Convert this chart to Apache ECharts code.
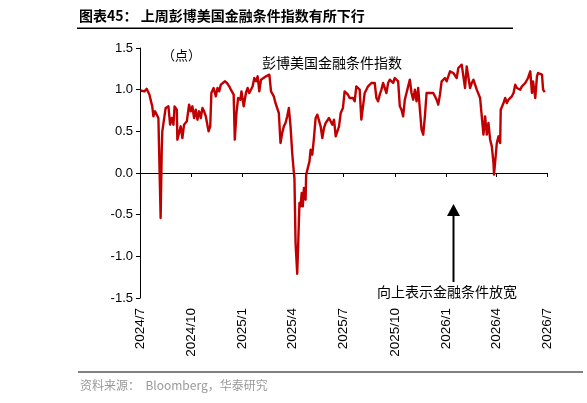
<!DOCTYPE html>
<html>
<head>
<meta charset="utf-8">
<script src="https://cdn.jsdelivr.net/npm/echarts@6/dist/echarts.min.js"></script>
<style>
  html, body { margin: 0; padding: 0; background: #fff; }
  #chart { width: 587px; height: 403px; }
</style>
</head>
<body>
<div id="chart"></div>
<script>
// 彭博美国金融条件指数（点）
const dates = [
  '2024-07-02','2024-07-09','2024-07-13','2024-07-18','2024-07-20','2024-07-23','2024-07-25','2024-07-28','2024-07-31','2024-08-03',
  '2024-08-04','2024-08-07','2024-08-09','2024-08-10','2024-08-13','2024-08-16','2024-08-21','2024-08-24','2024-08-27','2024-08-30',
  '2024-09-01','2024-09-05','2024-09-06','2024-09-09','2024-09-12','2024-09-15','2024-09-18','2024-09-23','2024-09-27','2024-09-30',
  '2024-10-03','2024-10-06','2024-10-09','2024-10-12','2024-10-15','2024-10-18','2024-10-21','2024-10-24','2024-10-27','2024-10-30',
  '2024-11-01','2024-11-04','2024-11-06','2024-11-10','2024-11-14','2024-11-17','2024-11-20','2024-11-23','2024-11-26','2024-11-30',
  '2024-12-04','2024-12-08','2024-12-11','2024-12-16','2024-12-18','2024-12-21','2024-12-24','2024-12-28','2024-12-30','2025-01-03',
  '2025-01-07','2025-01-10','2025-01-13','2025-01-16','2025-01-19','2025-01-22','2025-01-25','2025-01-28','2025-01-31','2025-02-03',
  '2025-02-06','2025-02-12','2025-02-18','2025-02-21','2025-02-26','2025-03-01','2025-03-07','2025-03-10','2025-03-13','2025-03-16',
  '2025-03-19','2025-03-22','2025-03-25','2025-03-28','2025-03-31','2025-04-03','2025-04-04','2025-04-06','2025-04-09','2025-04-11',
  '2025-04-13','2025-04-15','2025-04-17','2025-04-19','2025-04-21','2025-04-24','2025-04-25','2025-04-28','2025-05-01','2025-05-03',
  '2025-05-06','2025-05-09','2025-05-12','2025-05-15','2025-05-18','2025-05-21','2025-05-24','2025-05-27','2025-05-30','2025-06-02',
  '2025-06-05','2025-06-08','2025-06-11','2025-06-14','2025-06-17','2025-06-20','2025-06-23','2025-06-26','2025-06-30','2025-07-03',
  '2025-07-06','2025-07-09','2025-07-12','2025-07-15','2025-07-18','2025-07-21','2025-07-24','2025-07-27','2025-07-30','2025-08-02',
  '2025-08-05','2025-08-08','2025-08-11','2025-08-14','2025-08-17','2025-08-20','2025-08-23','2025-08-26','2025-08-29','2025-09-01',
  '2025-09-04','2025-09-07','2025-09-10','2025-09-13','2025-09-16','2025-09-19','2025-09-22','2025-09-25','2025-09-28','2025-10-01',
  '2025-10-04','2025-10-07','2025-10-10','2025-10-13','2025-10-16','2025-10-19','2025-10-22','2025-10-25','2025-10-28','2025-10-31',
  '2025-11-03','2025-11-06','2025-11-09','2025-11-12','2025-11-15','2025-11-18','2025-11-21','2025-11-24','2025-11-27','2025-11-30',
  '2025-12-03','2025-12-06','2025-12-09','2025-12-12','2025-12-15','2025-12-18','2025-12-21','2025-12-24','2025-12-27','2025-12-30',
  '2026-01-02','2026-01-05','2026-01-08','2026-01-11','2026-01-14','2026-01-17','2026-01-20','2026-01-23','2026-01-26','2026-01-29',
  '2026-02-01','2026-02-04','2026-02-07','2026-02-10','2026-02-13','2026-02-16','2026-02-19','2026-02-22','2026-02-25','2026-02-28',
  '2026-03-03','2026-03-06','2026-03-09','2026-03-12','2026-03-15','2026-03-18','2026-03-21','2026-03-24','2026-03-27','2026-03-28',
  '2026-04-02','2026-04-05','2026-04-08','2026-04-09','2026-04-14','2026-04-17','2026-04-20','2026-04-23','2026-04-26','2026-04-29',
  '2026-05-02','2026-05-05','2026-05-08','2026-05-11','2026-05-14','2026-05-17','2026-05-19','2026-05-23','2026-05-26','2026-05-28',
  '2026-06-01','2026-06-04','2026-06-06','2026-06-10','2026-06-13','2026-06-15','2026-06-18','2026-06-22','2026-06-24','2026-06-27'
];
const values = [
  0.99, 0.98, 1.01, 0.94, 0.88, 0.80, 0.68, 0.74, 0.72, 0.66,
  0.36, -0.54, 0.28, 0.50, 0.50, 0.78, 0.80, 0.58, 0.66, 0.58,
  0.80, 0.76, 0.40, 0.42, 0.56, 0.42, 0.58, 0.62, 0.82, 0.74,
  0.80, 0.66, 0.76, 0.64, 0.74, 0.66, 0.78, 0.74, 0.68, 0.70,
  0.50, 0.56, 0.96, 1.02, 0.92, 1.02, 0.98, 1.06, 1.08, 1.10,
  1.08, 1.04, 1.00, 0.94, 0.40, 0.72, 0.90, 0.88, 0.98, 0.80,
  0.96, 1.02, 0.96, 1.00, 1.04, 1.14, 1.10, 1.16, 0.98, 1.12,
  1.14, 1.16, 1.18, 0.98, 0.92, 0.84, 0.72, 0.36, 0.48, 0.56,
  0.60, 0.68, 0.78, 0.56, 0.24, 0.00, -0.06, -0.84, -1.21, -0.80,
  -0.36, -0.40, -0.24, -0.40, -0.18, -0.32, -0.02, 0.00, 0.14, 0.28,
  0.22, 0.42, 0.66, 0.70, 0.68, 0.56, 0.42, 0.54, 0.60, 0.62,
  0.66, 0.68, 0.58, 0.64, 0.44, 0.46, 0.56, 0.72, 0.78, 0.98,
  0.96, 0.94, 0.90, 0.88, 0.90, 0.86, 1.04, 1.04, 1.00, 0.64,
  0.80, 0.96, 1.00, 1.04, 1.04, 1.08, 1.06, 1.08, 0.90, 0.86,
  0.94, 1.00, 1.08, 1.10, 0.96, 1.08, 1.12, 1.10, 1.08, 1.14,
  1.12, 1.10, 0.80, 0.76, 0.68, 0.88, 0.96, 1.04, 1.12, 0.96,
  0.88, 1.00, 0.86, 1.02, 0.76, 0.52, 0.46, 0.68, 0.96, 0.98,
  0.96, 0.94, 0.96, 0.92, 0.88, 0.82, 0.94, 1.10, 1.08, 1.14,
  1.10, 1.16, 1.22, 1.24, 1.20, 1.22, 1.14, 1.26, 1.28, 1.30,
  1.32, 1.02, 1.28, 1.30, 1.02, 1.08, 1.12, 1.10, 1.00, 1.02,
  0.90, 0.68, 0.46, 0.68, 0.46, 0.60, 0.40, 0.32, 0.12, -0.02,
  0.36, 0.44, 0.36, 0.76, 0.84, 0.90, 0.84, 0.88, 0.90, 0.92,
  0.96, 1.06, 1.02, 1.04, 1.00, 1.04, 1.02, 1.08, 1.10, 1.14,
  1.22, 0.96, 1.10, 0.90, 1.16, 1.20, 1.18, 1.18, 1.00, 0.97
];
const tickLabels = ['2024/7', '2024/10', '2025/1', '2025/4', '2025/7', '2025/10', '2026/1', '2026/4', '2026/7'];
const yTicks = { min: -1.5, max: 1.5, step: 0.5 };

// 日期 -> 距 2024/7/1 的天数
function dayNo(y, m, d) {
  return Math.round((Date.UTC(y, m - 1, d) - Date.UTC(2024, 6, 1)) / 86400000);
}
function parseDay(s) {
  const p = s.split(/[-\/]/).map(Number);
  return dayNo(p[0], p[1], p[2] || 1);
}
const tickDays = tickLabels.map(parseDay);

const numFont = '"Liberation Sans", Arial, sans-serif';
const cjkFont = '"Noto Sans CJK SC", sans-serif';

const chart = echarts.init(document.getElementById('chart'), null, { renderer: 'canvas' });

const option = {
  animation: false,
  grid: { left: 140, right: 40, top: 48, bottom: 105, containLabel: false },
  xAxis: [
    {
      type: 'value',
      position: 'bottom',
      min: tickDays[0],
      max: tickDays[tickDays.length - 1],
      axisLine: { onZero: true, lineStyle: { color: '#000', width: 1 } },
      axisTick: { show: true, inside: false, length: 4, customValues: tickDays, lineStyle: { color: '#000' } },
      axisLabel: { show: false },
      splitLine: { show: false }
    },
    {
      type: 'value',
      position: 'bottom',
      min: tickDays[0],
      max: tickDays[tickDays.length - 1],
      axisLine: { show: false, onZero: false },
      axisTick: { show: false },
      splitLine: { show: false },
      axisLabel: {
        customValues: tickDays,
        rotate: 90,
        margin: 10,
        color: '#000',
        fontSize: 13.5,
        fontFamily: numFont,
        showMinLabel: true,
        showMaxLabel: true,
        formatter: v => tickLabels[tickDays.indexOf(Math.round(v))] || ''
      }
    }
  ],
  yAxis: {
    type: 'value',
    min: yTicks.min,
    max: yTicks.max,
    interval: yTicks.step,
    axisLine: { show: true, lineStyle: { color: '#000', width: 1 } },
    axisTick: { show: true, length: 4, lineStyle: { color: '#000' } },
    splitLine: { show: false },
    axisLabel: {
      margin: 7,
      color: '#000',
      fontSize: 13,
      fontFamily: numFont,
      formatter: v => v.toFixed(1)
    }
  },
  series: [
    {
      name: '彭博美国金融条件指数',
      type: 'line',
      xAxisIndex: 0,
      data: dates.map((d, i) => [parseDay(d), values[i]]),
      showSymbol: false,
      symbol: 'none',
      lineStyle: { color: '#C00000', width: 2.4, join: 'round' },
      itemStyle: { color: '#C00000' }
    }
  ],
  graphic: [
    {
      type: 'text', left: 79, top: 9,
      style: { text: '图表45： 上周彭博美国金融条件指数有所下行', font: 'bold 14px ' + cjkFont, fill: '#000' }
    },
    { type: 'rect', shape: { x: 77, y: 27.5, width: 436, height: 1.5 }, style: { fill: '#000' } },
    {
      type: 'text', left: 162, top: 49,
      style: { text: '（点）', font: '13px ' + cjkFont, fill: '#000' }
    },
    {
      type: 'text', left: 262, top: 56,
      style: { text: '彭博美国金融条件指数', font: '14px ' + cjkFont, fill: '#000' }
    },
    {
      type: 'text', left: 377, top: 285,
      style: { text: '向上表示金融条件放宽', font: '14px ' + cjkFont, fill: '#000' }
    },
    { type: 'line', shape: { x1: 453.5, y1: 282, x2: 453.5, y2: 214 }, style: { stroke: '#000', lineWidth: 2 } },
    { type: 'polygon', shape: { points: [[447, 216], [460, 216], [453.5, 204]] }, style: { fill: '#000' } },
    { type: 'rect', shape: { x: 78, y: 371, width: 505, height: 2 }, style: { fill: '#808080' } },
    {
      type: 'text', left: 80, top: 379,
      style: { text: '资料来源：  Bloomberg，华泰研究', font: '12px ' + cjkFont, fill: '#999' }
    }
  ]
};

chart.setOption(option);
</script>
</body>
</html>
